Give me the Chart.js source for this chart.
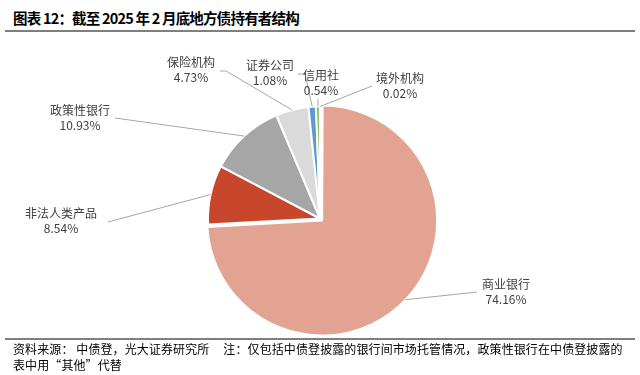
<!DOCTYPE html>
<html>
<head>
<meta charset="utf-8">
<script src="https://cdn.jsdelivr.net/npm/chart.js@4"></script>
<style>
  body { margin: 0; width: 640px; height: 375px; background: #fff; position: relative; overflow: hidden;
         font-family: "Noto Sans CJK SC", sans-serif; }
  .title { position: absolute; left: 13px; top: 7px; font-size: 14.5px; font-weight: bold; color: #000;
           font-family: "Noto Sans CJK SC"; white-space: pre; letter-spacing: -0.8px; }
  .rule { position: absolute; left: 5px; width: 630px; height: 2px; background: #7f7f7f; }
  .foot { position: absolute; left: 13px; font-size: 12px; color: #000; white-space: pre; letter-spacing: 0.1px; }
  #pie { position: absolute; left: 0; top: 0; }
</style>
</head>
<body>
<div class="title">图表 12：截至 2025 年 2 月底地方债持有者结构</div>
<div class="rule" style="top:30px"></div>
<canvas id="pie" width="640" height="375"></canvas>
<div class="rule" style="top:338px"></div>
<div class="foot" style="top:340px">资料来源： 中债登，光大证券研究所     注：仅包括中债登披露的银行间市场托管情况，政策性银行在中债登披露的</div>
<div class="foot" style="top:356px">表中用“其他”代替</div>
<script>
// holders and shares (%)
const holders = ['商业银行', '非法人类产品', '政策性银行', '保险机构', '证券公司', '信用社', '境外机构'];
const shares = [74.16, 8.54, 10.93, 4.73, 1.08, 0.54, 0.02];
const sliceColors = ['#E3A392', '#C8462B', '#A6A6A6', '#DADADA', '#5B9BD5', '#70AD47', '#264478'];

// label placement (text centre) and leader line anchors, per slice
const labelAt = [[506, 284], [61, 213], [80, 110], [191, 62], [270, 65], [321, 75], [400, 78]];
const anchorAt = [[[477, 292]], [[108, 222]], [[115, 118]], [[220, 71], [226, 71]],
                  [[298, 74], [305, 74]], [[318, 99]], [[372, 86]]];

const leaderLabels = {
  id: 'leaderLabels',
  afterDatasetsDraw(chart) {
    const ctx = chart.ctx;
    const meta = chart.getDatasetMeta(0);
    ctx.save();
    meta.data.forEach((arc, i) => {
      const { x, y, startAngle, endAngle, outerRadius } = arc.getProps(['x', 'y', 'startAngle', 'endAngle', 'outerRadius'], true);
      const mid = (startAngle + endAngle) / 2;
      const off = (arc.options.offset || 0) / 4;
      const ex = x + Math.cos(mid) * (outerRadius + 2 * off);
      const ey = y + Math.sin(mid) * (outerRadius + 2 * off);
      // leader line
      ctx.strokeStyle = '#A6A6A6';
      ctx.lineWidth = 1;
      ctx.beginPath();
      ctx.moveTo(ex, ey);
      anchorAt[i].slice().reverse().forEach(p => ctx.lineTo(p[0], p[1]));
      ctx.stroke();
      // text
      ctx.fillStyle = '#404040';
      ctx.font = '12px "Noto Sans CJK SC"';
      ctx.textAlign = 'center';
      ctx.textBaseline = 'middle';
      ctx.fillText(holders[i], labelAt[i][0], labelAt[i][1]);
      ctx.fillText(shares[i].toFixed(2) + '%', labelAt[i][0], labelAt[i][1] + 15);
    });
    ctx.restore();
  }
};

new Chart(document.getElementById('pie'), {
  type: 'pie',
  data: {
    labels: holders,
    datasets: [{
      data: shares,
      backgroundColor: sliceColors,
      borderColor: '#ffffff',
      borderWidth: 2,
      offset: [12, 0, 0, 0, 0, 0, 0]
    }]
  },
  options: {
    responsive: false,
    animation: false,
    radius: 112,
    layout: { padding: { top: 62, bottom: 0, left: 0, right: 0 } },
    plugins: {
      legend: { display: false },
      tooltip: { enabled: false }
    }
  },
  plugins: [leaderLabels]
});
</script>
</body>
</html>
